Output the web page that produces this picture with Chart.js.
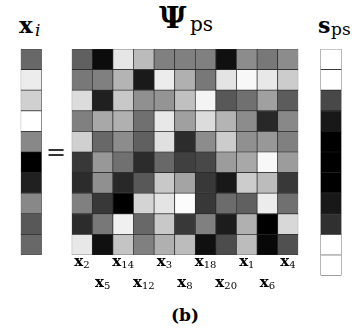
<!DOCTYPE html>
<html>
<head>
<meta charset="utf-8">
<script src="https://cdn.jsdelivr.net/npm/chart.js@4.4.0/dist/chart.umd.min.js"></script>
<style>
    html, body { margin: 0; padding: 0; background: #fff; }
    body { position: relative; width: 354px; height: 333px; overflow: hidden; font-family: "DejaVu Serif", serif; }
    canvas { position: absolute; }
    .t { position: absolute; white-space: nowrap; line-height: 1; color: #000; }
</style>
</head>
<body>
<canvas id="xiChart" width="42" height="225" style="left:10px;top:40px"></canvas>
<canvas id="psiChart" width="250" height="260" style="left:60px;top:40px"></canvas>
<canvas id="spsChart" width="42" height="250" style="left:310px;top:40px"></canvas>
<script>
// Column subscripts under Psi_ps (x_2, x_5, x_14 ...)
var columnIds = [2, 5, 14, 12, 3, 8, 18, 20, 1, 6, 4];

// Gray levels (0 = black, 255 = white), rows top to bottom
var xiValues = [104, 236, 208, 255, 136, 0, 32, 136, 88, 104];
var spsValues = [255, 255, 72, 24, 0, 0, 0, 24, 48, 255, 255];

var psiRow0 = [96, 12, 230, 187, 128, 128, 128, 16, 140, 120, 140];
var psiRow1 = [120, 128, 180, 26, 236, 176, 120, 228, 248, 232, 204];
var psiRow2 = [220, 32, 200, 144, 148, 192, 244, 88, 112, 160, 92];
var psiRow3 = [128, 168, 176, 112, 232, 160, 220, 180, 140, 40, 136];
var psiRow4 = [208, 104, 140, 96, 224, 44, 140, 204, 144, 152, 128];
var psiRow5 = [56, 152, 112, 44, 104, 64, 72, 156, 168, 248, 156];
var psiRow6 = [44, 144, 40, 88, 200, 164, 56, 24, 204, 188, 56];
var psiRow7 = [128, 56, 0, 212, 228, 252, 56, 108, 96, 236, 112];
var psiRow8 = [44, 120, 240, 104, 200, 56, 128, 28, 176, 0, 216];
var psiRow9 = [232, 16, 196, 128, 176, 188, 16, 76, 188, 8, 80];
var psiRows = [psiRow0, psiRow1, psiRow2, psiRow3, psiRow4, psiRow5, psiRow6, psiRow7, psiRow8, psiRow9];

function gray(v) {
    return 'rgb(' + v + ',' + v + ',' + v + ')';
}

// one stacked bar per column, one unit-high segment per row
function cellChart(id, labels, rows, padding, borderColor, borderWidth, plugins) {
    var datasets = [];
    for (var r = rows.length - 1; r >= 0; r--) {
        datasets.push({
            data: labels.map(function () { return 1; }),
            backgroundColor: rows[r].map(gray),
            borderColor: borderColor,
            borderWidth: borderWidth,
            borderSkipped: false,
            barPercentage: 1,
            categoryPercentage: 1
        });
    }
    return new Chart(document.getElementById(id), {
        type: 'bar',
        data: { labels: labels, datasets: datasets },
        options: {
            responsive: false,
            animation: false,
            devicePixelRatio: 1,
            layout: { padding: padding },
            plugins: { legend: { display: false }, tooltip: { enabled: false } },
            scales: {
                x: { type: 'category', stacked: true, display: false, offset: true },
                y: { stacked: true, display: false, min: 0, max: rows.length }
            }
        },
        plugins: plugins || []
    });
}

var columnLabelPlugin = {
    id: 'columnLabels',
    afterDraw: function (chart) {
        var ctx = chart.ctx, xs = chart.scales.x, area = chart.chartArea;
        ctx.save();
        ctx.fillStyle = '#000';
        ctx.textBaseline = 'alphabetic';
        columnIds.forEach(function (n, i) {
            var cx = xs.getPixelForValue(i);
            var base = area.bottom + (i % 2 === 0 ? 11 : 32);
            ctx.font = 'bold 15px "DejaVu Serif"';
            var wx = ctx.measureText('x').width;
            ctx.font = '10px "DejaVu Serif"';
            var ws = ctx.measureText(String(n)).width;
            var left = cx - (wx + ws) / 2;
            ctx.font = 'bold 15px "DejaVu Serif"';
            ctx.fillText('x', left, base);
            ctx.font = '10px "DejaVu Serif"';
            ctx.fillText(String(n), left + wx, base + 2);
        });
        ctx.restore();
    }
};

cellChart('xiChart', ['x'], xiValues.map(function (v) { return [v]; }),
    { left: 10.7, right: 10.3, top: 9, bottom: 10 }, '#2a2a2a', 0.7);

cellChart('psiChart', columnIds.map(function (n) { return 'x' + n; }), psiRows,
    { left: 11.7, right: 11.7, top: 9, bottom: 45 }, '#2a2a2a', 0.7, [columnLabelPlugin]);

cellChart('spsChart', ['s'], spsValues.map(function (v) { return [v]; }),
    { left: 10.5, right: 10.5, top: 9, bottom: 14.4 }, '#222', 0.7);

// text placed by baseline (DejaVu Serif, line-height 1)
function addText(str, x, baseline, size, weight, style, color) {
    var el = document.createElement('div');
    el.className = 't';
    el.textContent = str;
    el.style.left = x + 'px';
    el.style.top = (baseline - 0.846 * size) + 'px';
    el.style.fontSize = size + 'px';
    el.style.fontWeight = weight || 'normal';
    el.style.fontStyle = style || 'normal';
    if (color) el.style.color = color;
    document.body.appendChild(el);
}

addText('x', 19, 32, 23, 'bold');
addText('i', 35, 36.5, 17, 'normal', 'italic');
addText('\u03A8', 159, 28, 30, 'bold');
addText('ps', 190, 31, 20);
addText('s', 318, 33, 22, 'bold');
addText('ps', 331, 35.5, 17);
addText('=', 46, 160, 24, 'normal', 'normal', '#333');
addText('(b)', 171, 321, 17, 'bold');
</script>
</body>
</html>
